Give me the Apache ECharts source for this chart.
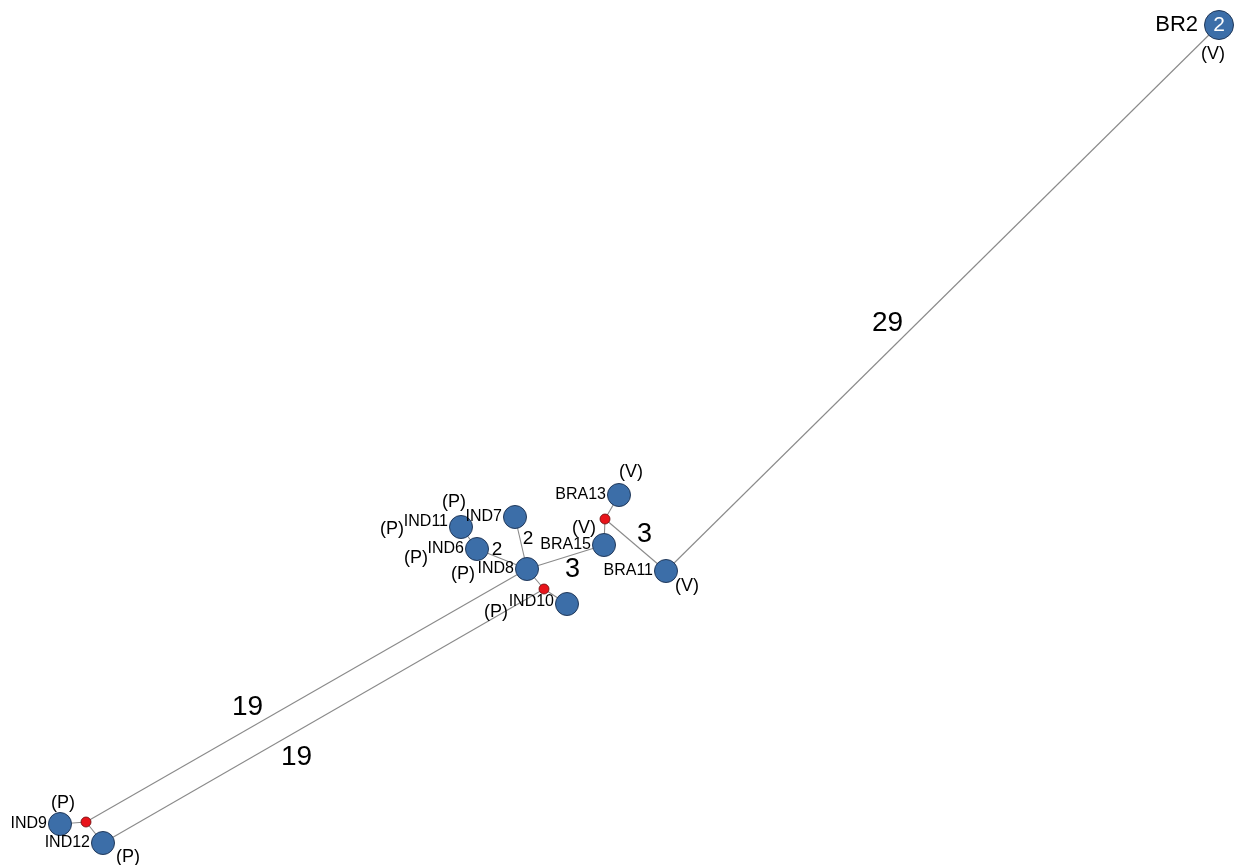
<!DOCTYPE html>
<html>
<head>
<meta charset="utf-8">
<script src="https://cdn.jsdelivr.net/npm/echarts@6/dist/echarts.min.js"></script>
<style>
  html, body { margin: 0; padding: 0; background: #ffffff; }
  #chart { width: 1245px; height: 865px; }
</style>
</head>
<body>
<div id="chart"></div>
<script>
// Haplotypes of the network: name, layout position, frequency and population tag
const haplotypes = ['BR2', 'BRA11', 'BRA13', 'BRA15', 'IND8', 'IND7', 'IND11', 'IND6', 'IND10', 'IND9', 'IND12'];
const hapX = [1219, 666, 619, 604, 527, 515, 461, 477, 567, 60, 103];
const hapY = [25, 571, 495, 545, 569, 517, 527, 549, 604, 824, 843];
const hapCount = [2, 1, 1, 1, 1, 1, 1, 1, 1, 1, 1];
const hapTag = ['(V)', '(V)', '(V)', '(V)', '(P)', '(P)', '(P)', '(P)', '(P)', '(P)', '(P)'];

// Median vectors (inferred intermediate nodes)
const medianNames = ['mv1', 'mv2', 'mv3'];
const medianX = [605, 544, 86];
const medianY = [519, 589, 822];

// Links and number of mutational steps along each
const linkSource = ['BR2', 'BRA11', 'mv1', 'mv1', 'BRA15', 'IND8', 'IND8', 'IND6', 'IND8', 'mv2', 'IND8', 'mv2', 'mv3', 'mv3'];
const linkTarget = ['BRA11', 'mv1', 'BRA13', 'BRA15', 'IND8', 'IND7', 'IND6', 'IND11', 'mv2', 'IND10', 'mv3', 'IND12', 'IND9', 'IND12'];
const linkSteps = [29, 3, 1, 1, 3, 2, 2, 1, 1, 1, 19, 19, 1, 1];

// ---- styling ----
const BLUE = '#3c6ea8';
const BORDER = '#22395a';
const RED = '#e8141b';
const FONT = 'Liberation Sans, Arial, sans-serif';

// name label vertical nudges
const nameOffset = { IND11: [0, -5], IND10: [0, -2] };
// tag label offsets from node centre
const tagOffset = {
  BR2: [-6, 29], BRA11: [21, 15], BRA13: [12, -23], BRA15: [-20, -17],
  IND8: [-64, 5], IND7: [-61, -15], IND11: [-69, 2], IND6: [-61, 9],
  IND10: [-71, 8], IND9: [3, -21], IND12: [25, 14]
};
// step label offsets from the link midpoint, and font size
const stepStyle = {
  'BR2-BRA11': { off: [-55, 25], size: 28 },
  'BRA11-mv1': { off: [9, -10], size: 27 },
  'BRA15-IND8': { off: [7, 13], size: 27 },
  'IND8-IND7': { off: [7, -4], size: 19 },
  'IND8-IND6': { off: [-5, -9], size: 19 },
  'IND8-mv3': { off: [-59, 12], size: 28 },
  'mv2-IND12': { off: [-27, 41], size: 28 }
};

const pos = {};
haplotypes.forEach((n, i) => { pos[n] = [hapX[i], hapY[i]]; });
medianNames.forEach((n, i) => { pos[n] = [medianX[i], medianY[i]]; });

const nodes = haplotypes.map((n, i) => ({
  name: n,
  value: pos[n],
  symbolSize: hapCount[i] > 1 ? 29 : 23,
  itemStyle: { color: BLUE, borderColor: BORDER, borderWidth: 1 },
  label: {
    show: true,
    position: 'left',
    distance: hapCount[i] > 1 ? 6 : 1,
    offset: nameOffset[n] || [0, 0],
    formatter: n,
    fontSize: hapCount[i] > 1 ? 22 : 16,
    color: '#000',
    fontFamily: FONT
  }
})).concat(medianNames.map(n => ({
  name: n,
  value: pos[n],
  symbolSize: 10,
  itemStyle: { color: RED, borderColor: '#6b0a0a', borderWidth: 0.8 },
  label: { show: false }
})));

const links = linkSource.map((s, i) => ({
  source: s,
  target: linkTarget[i],
  value: linkSteps[i]
}));

// step labels, placed relative to each link midpoint
const stepLabels = [];
links.forEach(l => {
  if (l.value < 2) return;
  const st = stepStyle[l.source + '-' + l.target];
  const a = pos[l.source], b = pos[l.target];
  stepLabels.push({
    value: [(a[0] + b[0]) / 2, (a[1] + b[1]) / 2],
    steps: l.value,
    label: { offset: st.off, fontSize: st.size }
  });
});

// population tags
const tagLabels = haplotypes.map((n, i) => ({
  value: pos[n],
  label: { formatter: hapTag[i], offset: tagOffset[n], fontSize: 18 }
}));

// frequency written inside nodes seen more than once
const countLabels = [];
haplotypes.forEach((n, i) => {
  if (hapCount[i] > 1) countLabels.push({ value: pos[n], label: { formatter: String(hapCount[i]) } });
});

const textSeries = (data, extra) => ({
  type: 'scatter',
  symbolSize: 0,
  data: data,
  silent: true,
  itemStyle: { opacity: 1 },
  emphasis: { disabled: true },
  label: Object.assign({
    show: true,
    position: 'inside',
    color: '#000',
    fontFamily: FONT
  }, extra),
  z: 3
});

const chart = echarts.init(document.getElementById('chart'), null, { renderer: 'canvas' });
chart.setOption({
  backgroundColor: '#ffffff',
  animation: false,
  grid: { left: 0, right: 0, top: 0, bottom: 0 },
  xAxis: { type: 'value', min: 0, max: 1245, show: false },
  yAxis: { type: 'value', min: 0, max: 865, inverse: true, show: false },
  series: [
    {
      type: 'graph',
      coordinateSystem: 'cartesian2d',
      layout: 'none',
      symbol: 'circle',
      data: nodes,
      links: links,
      lineStyle: { color: '#8a8a8a', width: 1.1, opacity: 1, curveness: 0 },
      emphasis: { disabled: true },
      z: 2
    },
    textSeries(stepLabels, { formatter: p => String(p.data.steps) }),
    textSeries(tagLabels, {}),
    textSeries(countLabels, { color: '#ffffff', fontSize: 21 })
  ]
});
</script>
</body>
</html>
